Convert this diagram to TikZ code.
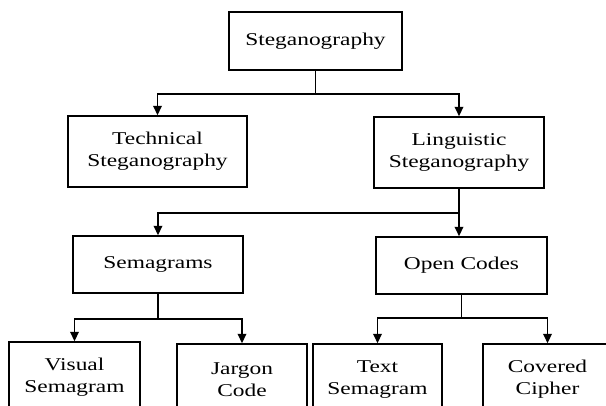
\documentclass[tikz,border=0pt]{standalone}
\usepackage{fontspec}
\setmainfont{Liberation Serif}[FakeStretch=1.3]
\usetikzlibrary{arrows.meta}
\begin{document}
\begin{tikzpicture}[x=0.75pt,y=-0.75pt,
  box/.style={draw, line width=1.3pt, inner sep=0pt, align=center,
    font=\fontsize{13.5}{16.5}\selectfont},
  conn/.style={line width=1.2pt},
  arr/.style={line width=1.2pt, -{Triangle[width=6.5pt,length=7pt]}}]
\path[use as bounding box, fill=white] (0,0) rectangle (606,405);
\clip (0,0) rectangle (606,405);
% level 0
\node[box, minimum width=173*0.75pt, minimum height=58*0.75pt] (root) at (315.5,41) {Steganography};
% level 1
\node[box, minimum width=179*0.75pt, minimum height=71*0.75pt] (tech) at (157.5,151.5) {Technical\\Steganography};
\node[box, minimum width=170*0.75pt, minimum height=71*0.75pt] (ling) at (459,152.5) {Linguistic\\Steganography};
% level 2
\node[box, minimum width=170*0.75pt, minimum height=57*0.75pt] (sema) at (158,264.5) {Semagrams};
\node[box, minimum width=171*0.75pt, minimum height=57*0.75pt] (open) at (461.5,265.5) {Open Codes};
% level 3
\node[box, minimum width=131*0.75pt, minimum height=71*0.75pt] (visual) at (74.5,377.5) {Visual\\Semagram};
\node[box, minimum width=130*0.75pt, minimum height=71*0.75pt] (jargon) at (242,379.5) {Jargon\\Code};
\node[box, minimum width=129*0.75pt, minimum height=71*0.75pt] (textsem) at (377.5,379.5) {Text\\Semagram};
\node[box, minimum width=129*0.75pt, minimum height=71*0.75pt] (covered) at (547.5,379.5) {Covered\\Cipher};
% connectors
\path (root.south) ++(0,23) coordinate (j1);
\draw[conn] (root.south) -- (j1);
\draw[arr] (j1) -| (tech.north);
\draw[arr] (j1) -| (ling.north);
\path (ling.south) ++(0,24) coordinate (j2);
\draw[arr] (ling.south) -- (ling.south |- open.north);
\draw[arr] (j2) -| (sema.north);
\path (sema.south) ++(0,25) coordinate (j3);
\draw[conn] (sema.south) -- (j3);
\draw[arr] (j3) -| (visual.north);
\draw[arr] (j3) -| (jargon.north);
\path (open.south) ++(0,23) coordinate (j4);
\draw[conn] (open.south) -- (j4);
\draw[arr] (j4) -| (textsem.north);
\draw[arr] (j4) -| (covered.north);
\end{tikzpicture}
\end{document}
